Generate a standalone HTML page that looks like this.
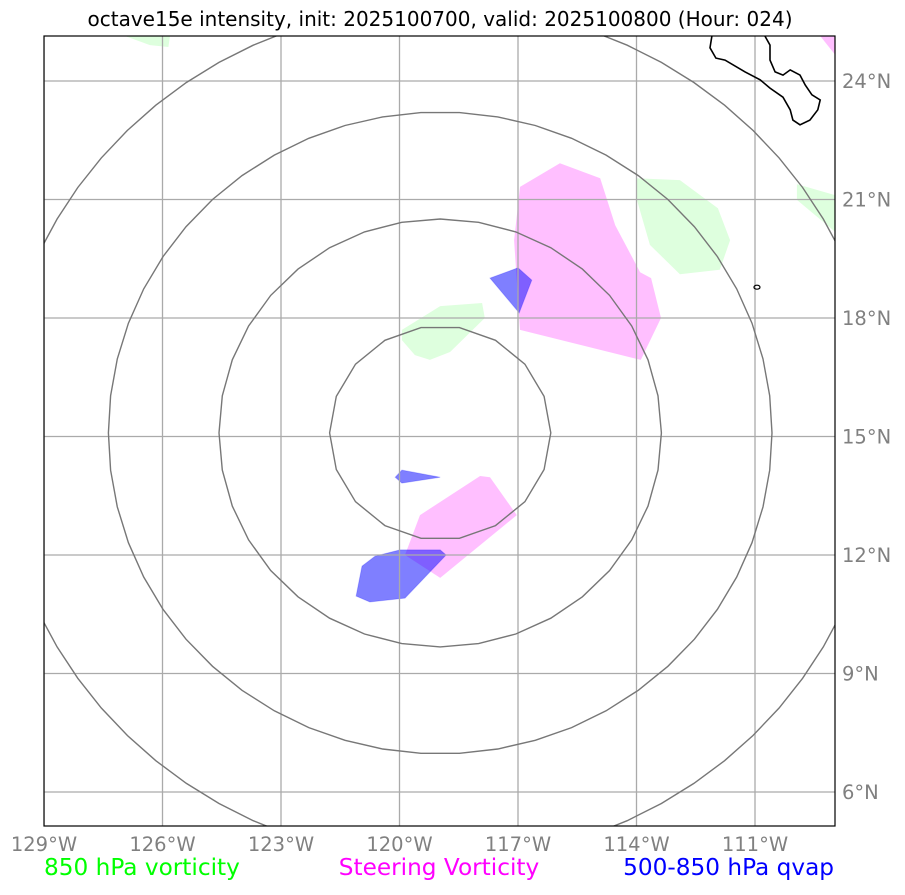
<!DOCTYPE html>
<html><head><meta charset="utf-8">
<style>
body{margin:0;background:#fff;font-family:"DejaVu Sans","Liberation Sans",sans-serif;}
svg text{font-family:"DejaVu Sans","Liberation Sans",sans-serif;}
</style></head>
<body>
<svg id="chart" width="905" height="891" xmlns="http://www.w3.org/2000/svg">
<text x="440" y="26" text-anchor="middle" font-size="20" fill="#000">octave15e intensity, init: 2025100700, valid: 2025100800 (Hour: 024)</text>
<defs><clipPath id="clip"><rect x="44" y="36" width="791" height="790"/></clipPath></defs>
<g id="layers" clip-path="url(#clip)"></g>
<g id="ticks"></g>
<rect x="44" y="36" width="791" height="790" fill="none" stroke="#000" stroke-width="1.2"/>
<text x="44" y="875" font-size="23.2" fill="#00ff00">850 hPa vorticity</text>
<text x="439" y="875" text-anchor="middle" font-size="23.2" fill="#ff00ff">Steering Vorticity</text>
<text x="834" y="875" text-anchor="end" font-size="23.2" fill="#0000ff">500-850 hPa qvap</text>
</svg>
<script>
const lonTicks=[-129,-126,-123,-120,-117,-114,-111];
const latTicks=[6,9,12,15,18,21,24];
const greenPolys=[
 [[-126.95,25.14],[-125.81,25.14],[-125.85,24.86],[-126.32,24.91]],
 [[-119.94,17.70],[-118.97,18.30],[-117.91,18.38],[-117.84,18.0],[-118.72,17.14],[-119.23,16.94],[-119.61,17.06],[-119.94,17.44]],
 [[-114.01,21.54],[-112.90,21.49],[-111.94,20.78],[-111.63,19.97],[-111.89,19.22],[-112.90,19.11],[-113.66,19.85],[-113.99,20.99]],
 [[-109.94,21.39],[-108.97,21.11],[-108.97,20.18],[-109.94,20.99]]
];
const pinkPolys=[
 [[-116.95,21.32],[-115.94,21.92],[-114.92,21.54],[-114.54,20.35],[-113.91,19.16],[-113.63,19.01],[-113.38,18.0],[-113.89,16.94],[-116.95,17.70],[-117.10,19.97]],
 [[-119.48,13.01],[-117.96,14.0],[-117.71,13.97],[-117.03,13.01],[-118.97,11.42],[-119.86,12.0]],
 [[-109.35,25.14],[-108.97,25.14],[-108.97,24.66]]
];
const bluePolys=[
 [[-117.71,19.01],[-117.0,19.27],[-116.65,18.96],[-116.97,18.13]],
 [[-120.11,13.97],[-119.94,14.15],[-118.97,13.97],[-119.94,13.82]],
 [[-121.10,10.96],[-120.95,11.72],[-120.62,11.97],[-119.99,12.13],[-118.97,12.13],[-118.82,12.0],[-119.86,10.91],[-120.75,10.81]]
];
const coast=[[-112.09,25.14],[-112.14,24.84],[-111.99,24.58],[-111.76,24.53],[-111.25,24.23],[-110.87,24.03],[-110.62,23.82],[-110.29,23.59],[-110.11,23.27],[-110.04,23.01],[-109.86,22.89],[-109.61,23.01],[-109.41,23.27],[-109.35,23.52],[-109.56,23.65],[-109.73,23.90],[-109.86,24.15],[-110.11,24.28],[-110.29,24.15],[-110.49,24.23],[-110.62,24.53],[-110.62,24.91],[-110.75,25.14]];
const island=[-110.95,18.78];
const ringCenter=[-118.97,15.09];
const ringRadii=[2.8,5.6,8.4,11.2];
const NS="http://www.w3.org/2000/svg";
const X=lon=>44+(lon+129)*39.5;
const Y=lat=>81+(24-lat)*39.5;
const layers=document.getElementById('layers');
const ticks=document.getElementById('ticks');
function mk(tag,attrs,parent){const e=document.createElementNS(NS,tag);for(const k in attrs)e.setAttribute(k,attrs[k]);parent.appendChild(e);return e;}
function pts(p){return p.map(q=>X(q[0]).toFixed(1)+','+Y(q[1]).toFixed(1)).join(' ');}
greenPolys.forEach(p=>{const e=mk('polygon',{points:pts(p),fill:'#00ff00','fill-opacity':0.13},layers);

});
pinkPolys.forEach(p=>{const e=mk('polygon',{points:pts(p),fill:'#ff00ff','fill-opacity':0.25},layers);

});
bluePolys.forEach(p=>{const e=mk('polygon',{points:pts(p),fill:'#0000ff','fill-opacity':0.5,stroke:'#0000ff','stroke-opacity':0.2},layers);

});
lonTicks.forEach(l=>{const e=mk('line',{x1:X(l),x2:X(l),y1:36,y2:826,stroke:'#aaa','stroke-width':1.3},layers);


const t=mk('text',{x:X(l),y:851,'text-anchor':'middle','font-size':19.5,fill:'#808080'},ticks);
t.textContent=Math.abs(l)+'°W';

});
latTicks.forEach(l=>{const e=mk('line',{x1:44,x2:835,y1:Y(l),y2:Y(l),stroke:'#aaa','stroke-width':1.3},layers);


const t=mk('text',{x:842,y:Y(l)+7,'font-size':19.5,fill:'#808080'},ticks);
t.textContent=l+'°N';

});
ringRadii.forEach((r,i)=>{const n=18*(i+1);const p=[];for(let j=0;j<n;j++){const a=j*2*Math.PI/n;p.push((X(ringCenter[0])+Math.cos(a)*r*39.5).toFixed(1)+','+(Y(ringCenter[1])+Math.sin(a)*r*38.2).toFixed(1));}
const e=mk('polygon',{points:p.join(' '),fill:'none',stroke:'#777','stroke-width':1.4},layers);

});
const c=mk('polyline',{points:pts(coast),fill:'none',stroke:'#000','stroke-width':1.6},layers);


const is=mk('ellipse',{cx:X(island[0]),cy:Y(island[1]),rx:3,ry:2,fill:'none',stroke:'#000','stroke-width':1.2},layers);


</script>
</body></html>
